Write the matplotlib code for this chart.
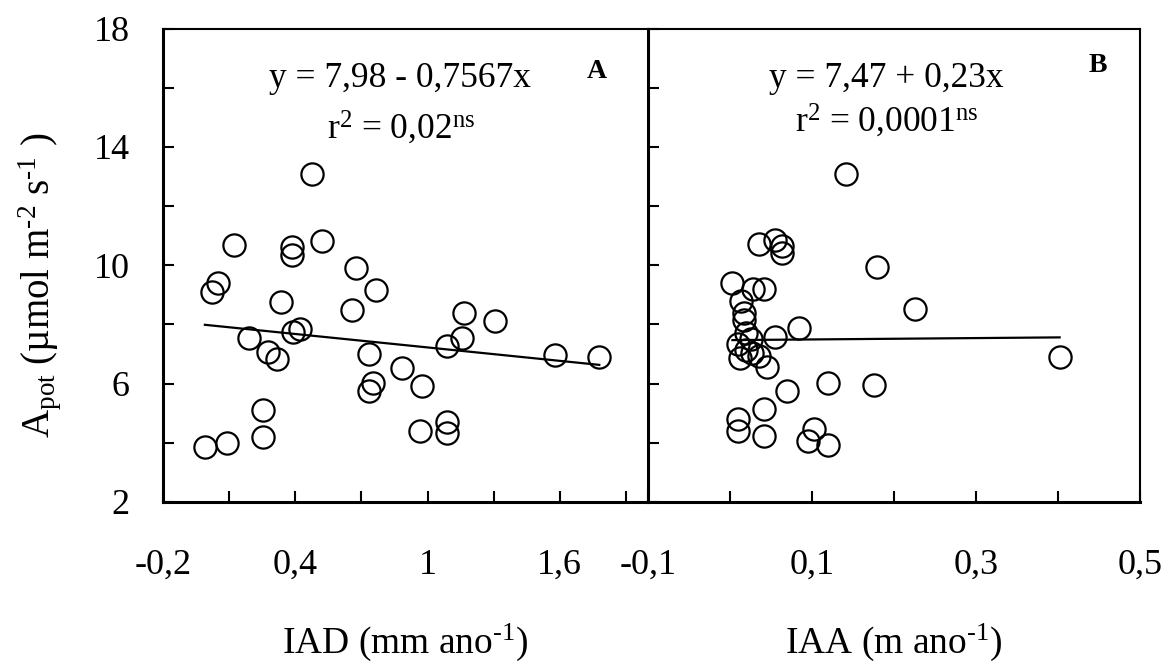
import matplotlib
matplotlib.use("Agg")
import matplotlib.pyplot as plt
import numpy as np

plt.rcParams['font.family'] = ['Liberation Serif', 'DejaVu Serif']
plt.rcParams['mathtext.fontset'] = 'custom'
plt.rcParams['mathtext.rm'] = 'Liberation Serif'
plt.rcParams['mathtext.it'] = 'Liberation Serif:italic'
plt.rcParams['mathtext.bf'] = 'Liberation Serif:bold'

# ---------------- data ----------------
# Panel A: IAD (mm ano-1) vs Apot
iad = [0.474, 0.122, 0.384, 0.384, 0.522, 0.674, 0.051, 0.024, 0.766, 0.334,
       0.656, 1.165, 1.306, 0.191, 0.391, 0.421, 0.278, 0.318, 0.734, 1.157,
       1.087, 1.578, 1.779, 0.885, 0.754, 0.734, 0.976, 0.252, 0.252, -0.010,
       0.092, 0.966, 1.087, 1.087]
apot_a = [13.08, 10.68, 10.63, 10.34, 10.83, 9.90, 9.39, 9.10, 9.16, 8.75,
          8.49, 8.38, 8.13, 7.53, 7.75, 7.83, 7.08, 6.82, 7.00, 7.55,
          7.28, 6.97, 6.89, 6.54, 6.03, 5.76, 5.92, 5.11, 4.21, 3.87,
          4.00, 4.41, 4.71, 4.34]

# Panel B: IAA (m ano-1) vs Apot
iaa = [0.141, 0.035, 0.055, 0.063, 0.063, 0.179, 0.003, 0.028, 0.042, 0.014,
       0.225, 0.017, 0.084, 0.017, 0.020, 0.010, 0.055, 0.020, 0.027, 0.012,
       0.045, 0.402, 0.069, 0.119, 0.176, 0.042, 0.010, 0.010, 0.042, 0.102,
       0.095, 0.119, 0.025, 0.035]
apot_b = [13.10, 10.72, 10.87, 10.65, 10.40, 9.93, 9.41, 9.19, 9.19, 8.79,
          8.51, 8.40, 7.87, 8.15, 7.70, 7.33, 7.59, 7.14, 7.02, 6.85,
          6.57, 6.91, 5.76, 6.03, 5.95, 5.13, 4.79, 4.40, 4.23, 4.46,
          4.06, 3.93, 7.52, 6.95]

# regression coefficients (intercept, slope)
fit_a = (7.98, -0.7567)
fit_b = (7.47, 0.23)

eq_a = ["y = 7,98 - 0,7567x", r"r$^{2}$ = 0,02$^{\mathrm{ns}}$"]
eq_b = ["y = 7,47 + 0,23x", r"r$^{2}$ = 0,0001$^{\mathrm{ns}}$"]

yticks = [2, 4, 6, 8, 10, 12, 14, 16, 18]
yticklabels = ['2', '', '6', '', '10', '', '14', '', '18']
xticks_a = [-0.2, 0.1, 0.4, 0.7, 1.0, 1.3, 1.6, 1.9]
xticklabels_a = ['-0,2', '', '0,4', '', '1', '', '1,6', '']
xticks_b = [-0.1, 0.0, 0.1, 0.2, 0.3, 0.4, 0.5]
xticklabels_b = ['-0,1', '', '0,1', '', '0,3', '', '0,5']

# ---------------- figure ----------------
W, H = 1167, 663
fig = plt.figure(figsize=(W / 100, H / 100), dpi=100)

def px_axes(x0, x1, ytop, ybot):
    return [x0 / W, 1 - ybot / H, (x1 - x0) / W, (ybot - ytop) / H]

axA = fig.add_axes(px_axes(163, 648, 28.5, 502))
axB = fig.add_axes(px_axes(648, 1140, 28.5, 502))

FS = 26
HY = '\u2010'  # hyphen used in the superscripts
for ax, xs, ys, fit, xt, xtl, xlim, xlabel in [
        (axA, iad, apot_a, fit_a, xticks_a, xticklabels_a, (-0.2, 2.0),
         "IAD (mm ano$^{\\mathrm{" + HY + "1}}$)"),
        (axB, iaa, apot_b, fit_b, xticks_b, xticklabels_b, (-0.1, 0.5),
         "IAA (m ano$^{\\mathrm{" + HY + "1}}$)")]:
    ax.plot(xs, ys, linestyle='none', marker='o', markersize=16,
            markerfacecolor='none', markeredgecolor='black', markeredgewidth=1.6,
            clip_on=False, zorder=3)
    xx = np.array([min(xs), max(xs)])
    ax.plot(xx, fit[0] + fit[1] * xx, color='black', lw=1.6, zorder=2)
    ax.set_xlim(*xlim)
    ax.set_ylim(2, 18)
    ax.set_xticks(xt)
    ax.set_xticklabels(xtl)
    ax.set_yticks(yticks)
    ax.tick_params(axis='both', direction='in', length=8, width=1.5,
                   labelsize=FS, colors='black')
    ax.tick_params(axis='x', pad=34)
    ax.tick_params(axis='y', pad=24)
    ax.set_xlabel(xlabel, fontsize=27)
    ax.xaxis.set_label_coords(0.5, -0.252)
    for s in ['left', 'bottom']:
        ax.spines[s].set_linewidth(2.2)
    for s in ['top', 'right']:
        ax.spines[s].set_linewidth(1.5)

axA.set_yticklabels(yticklabels)
axA.spines['right'].set_visible(False)
axB.set_yticklabels([])

axA.text(0.489, 0.895, eq_a[0], transform=axA.transAxes, ha='center', va='center', fontsize=25.5)
axA.text(0.491, 0.79, eq_a[1], transform=axA.transAxes, ha='center', va='center', fontsize=25.5)
axA.text(0.895, 0.91, "A", transform=axA.transAxes, ha='center', va='center', fontsize=20, fontweight='bold')

axB.text(0.484, 0.895, eq_b[0], transform=axB.transAxes, ha='center', va='center', fontsize=25.5)
axB.text(0.486, 0.805, eq_b[1], transform=axB.transAxes, ha='center', va='center', fontsize=25.5)
axB.text(0.915, 0.921, "B", transform=axB.transAxes, ha='center', va='center', fontsize=20, fontweight='bold')

fig.text(40 / W, 1 - 285 / H,
         "A$_{\\mathrm{pot}}$ (\u00b5mol m$^{\\mathrm{" + HY + "2}}$ s$^{\\mathrm{" + HY + "1}}$ )",
         rotation=90, ha='center', va='center', fontsize=28)

fig.savefig("out.png", dpi=100)
